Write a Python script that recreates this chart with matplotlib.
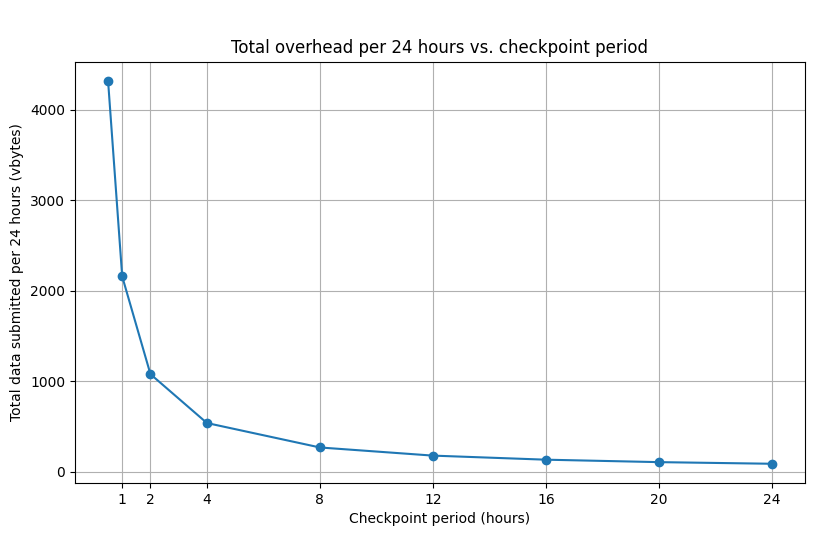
import matplotlib
matplotlib.use("Agg")
import matplotlib.pyplot as plt

periods = [0.5, 1, 2, 4, 8, 12, 16, 20, 24]
overhead = [4320, 2160, 1080, 540, 270, 180, 135, 108, 90]
xticks = [1, 2, 4, 8, 12, 16, 20, 24]

fig, ax = plt.subplots(figsize=(8.14, 5.33), dpi=100)
fig.subplots_adjust(left=0.092, right=0.989, top=0.884, bottom=0.094)
ax.plot(periods, overhead, marker="o")
ax.set_xticks(xticks)
ax.set_xlabel("Checkpoint period (hours)")
ax.set_ylabel("Total data submitted per 24 hours (vbytes)")
ax.set_title("Total overhead per 24 hours vs. checkpoint period")
ax.grid(True)
fig.savefig("out.png")
